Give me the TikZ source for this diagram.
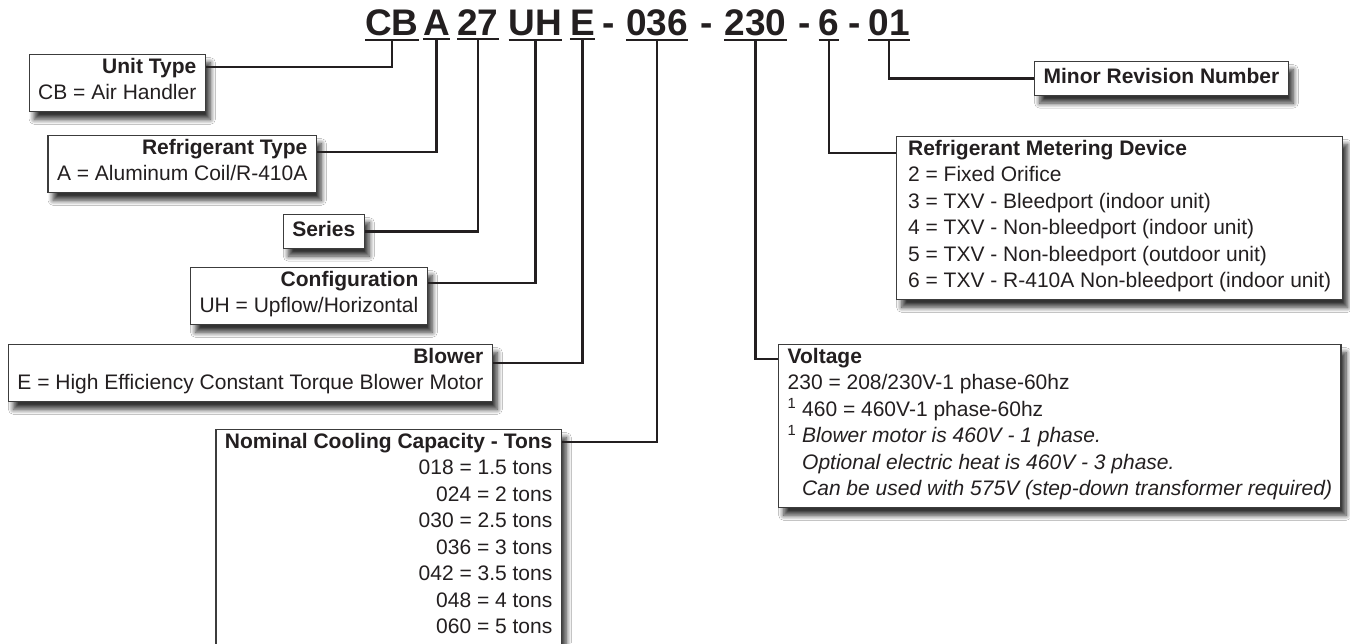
\documentclass[tikz,border=0pt]{standalone}
\usepackage{fontspec}
\setmainfont{Liberation Sans}
\usetikzlibrary{shadows.blur}

\definecolor{inkblack}{HTML}{231F20}
\definecolor{boxedge}{HTML}{3C3C3C}

\begin{document}
\begin{tikzpicture}[
    x=1pt, y=-1pt,
    every node/.style={font=\fontsize{21}{26.5}\selectfont, text=inkblack},
    code/.style={font=\fontsize{37}{40}\selectfont\bfseries, inner sep=0pt, anchor=base},
    ul/.style={draw=inkblack, line width=2pt},
    link/.style={draw=inkblack, line width=2.2pt},
    infobox/.style={draw=boxedge, line width=1.3pt, fill=white, inner xsep=9pt, inner ysep=3.5pt,
        blur shadow={shadow xshift=5pt, shadow yshift=-8pt, shadow blur steps=8,
            shadow blur radius=5pt, shadow opacity=80},
        execute at begin node=\strut, execute at end node=\strut},
    leftbox/.style={infobox, align=right, anchor=north east},
    rightbox/.style={infobox, align=left, anchor=north west}
]
\useasboundingbox (0,0) rectangle (1350,643);
\clip (0,0) rectangle (1350,643);
\fill[white] (0,0) rectangle (1350,643);

% model number
\node[code] (tCB) at (392,35) {CB};
\node[code] (tA) at (436.5,35) {A};
\node[code] (t27) at (478,35) {27};
\node[code] (tUH) at (535.5,35) {UH};
\node[code] (tE) at (582.5,35) {E};
\node[code] (dash1) at (609,35) {-};
\node[code] (t036) at (657,35) {036};
\node[code] (dash2) at (707,35) {-};
\node[code] (t230) at (755.5,35) {230};
\node[code] (dash3) at (805,35) {-};
\node[code] (t6) at (829,35) {6};
\node[code] (dash4) at (855,35) {-};
\node[code] (t01) at (889,35) {01};
\foreach \s in {tCB,tA,t27,tUH,tE,t036,t230,t6,t01}
    \draw[ul] ([yshift=-4pt]\s.south west) -- ([yshift=-4pt]\s.south east);

% left side
\node[leftbox] (unittype) at (206,54) {\textbf{Unit Type}\\CB = Air Handler};
\node[leftbox] (refrig) at (317,135) {\textbf{Refrigerant Type}\\A = Aluminum Coil/R-410A};
\node[leftbox] (series) at (365,214) {\textbf{Series}};
\node[leftbox] (config) at (428,267) {\textbf{Configuration}\\UH = Upflow/Horizontal};
\node[leftbox] (blower) at (493,344) {\textbf{Blower}\\E = High Efficiency Constant Torque Blower Motor};
\node[leftbox] (capacity) at (562,429) {\textbf{Nominal Cooling Capacity - Tons}\\018 = 1.5 tons\\024 = 2 tons\\030 = 2.5 tons\\036 = 3 tons\\042 = 3.5 tons\\048 = 4 tons\\060 = 5 tons\rule[-20pt]{0pt}{1pt}};

% right side
\node[rightbox] (minorrev) at (1034,61) {\textbf{Minor Revision Number}};
\node[rightbox, minimum width=446pt] (metering) at (896,136) {\textbf{Refrigerant Metering Device}\\2 = Fixed Orifice\\3 = TXV - Bleedport (indoor unit)\\4 = TXV - Non-bleedport (indoor unit)\\5 = TXV - Non-bleedport (outdoor unit)\\6 = TXV - R-410A Non-bleedport (indoor unit)};
\node[rightbox] (voltage) at (778,344) {\textbf{Voltage}\\230 = 208/230V-1 phase-60hz\\\textsuperscript{1} 460 = 460V-1 phase-60hz\\\textsuperscript{1} \textit{Blower motor is 460V - 1 phase.}\\\phantom{\textsuperscript{1}\ }\textit{Optional electric heat is 460V - 3 phase.}\\\phantom{\textsuperscript{1}\ }\textit{Can be used with 575V (step-down transformer required)}};

% connectors
\draw[link] ([yshift=-4pt]tCB.south) |- ([yshift=-13pt]unittype.north east);
\draw[link] ([yshift=-4pt]tA.south) |- ([yshift=-17pt]refrig.north east);
\draw[link] ([yshift=-4pt]t27.south) |- (series.east);
\draw[link] ([yshift=-4pt]tUH.south) |- ([yshift=-16pt]config.north east);
\draw[link] ([yshift=-4pt]tE.south) |- ([yshift=-19pt]blower.north east);
\draw[link] ([yshift=-4pt]t036.south) |- ([yshift=-13pt]capacity.north east);
\draw[link] ([yshift=-4pt]t230.south) |- ([yshift=-15pt]voltage.north west);
\draw[link] ([yshift=-4pt]t6.south) |- ([yshift=-17pt]metering.north west);
\draw[link] ([yshift=-4pt]t01.south) |- (minorrev.west);
\end{tikzpicture}
\end{document}
